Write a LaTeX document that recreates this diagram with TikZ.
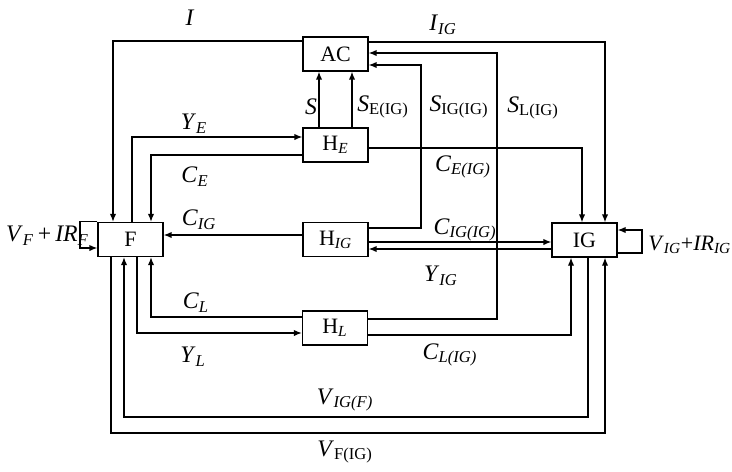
\documentclass[tikz,border=0pt]{standalone}
\usepackage{fontspec}
\setmainfont{Liberation Serif}
\usepackage{tikz}
\usetikzlibrary{arrows.meta,positioning,calc}
\newcommand{\vsub}[2]{\textit{#1}\textsubscript{\textit{#2}}}
\newcommand{\vsubrm}[2]{\textit{#1}\textsubscript{#2}}
\begin{document}
\begin{tikzpicture}[x=0.02cm,y=-0.02cm,>={Latex[length=4.5pt,width=3.6pt]},
 block/.style={draw,line width=0.8pt,minimum width=1.3cm,minimum height=0.68cm,inner sep=0pt,font=\fontsize{12.5}{14}\selectfont},
 flow/.style={->,line width=0.7pt},
 lbl/.style={font=\fontsize{13.5}{15}\selectfont,inner sep=1pt}]
\useasboundingbox (0,0) rectangle (732,471);
 \node[block] (AC) at (335.5,54) {AC};
 \node[block] (HE) at (335.5,145) {H\textsubscript{\textit{E}}};
 \node[block] (HIG) at (335.5,239.5) {H\textsubscript{\textit{IG}}};
 \node[block] (HL) at (335,328) {H\textsubscript{\textit{L}}};
 \node[block] (F) at (130.5,239.5) {F};
 \node[block] (IG) at (584.5,240) {IG};
 \draw[flow] (AC.west |- 0,41) -| (113,0 |- F.north);
 \draw[flow] (AC.east |- 0,42) -| (605,0 |- IG.north);
 \draw[flow] (HE.north -| 319,0) -- (AC.south -| 319,0);
 \draw[flow] (HE.north -| 352,0) -- (AC.south -| 352,0);
 \draw[flow] (HIG.east |- 0,228) -| (421,65) -- (AC.east |- 0,65);
 \draw[flow] (HL.east |- 0,319) -| (497,53) -- (AC.east |- 0,53);
 \draw[flow] (HE.east |- 0,148) -| (582,0 |- IG.north);
 \draw[flow] (F.north -| 132,0) |- (HE.west |- 0,137);
 \draw[flow] (HE.west |- 0,155) -| (151,0 |- F.north);
 \draw[flow] (HIG.west |- 0,235) -- (F.east |- 0,235);
 \draw[flow] (HIG.east |- 0,242) -- (IG.west |- 0,242);
 \draw[flow] (IG.west |- 0,249) -- (HIG.east |- 0,249);
 \draw[flow] (HL.west |- 0,317) -| (151,0 |- F.south);
 \draw[flow] (F.south -| 137,0) |- (HL.west |- 0,333);
 \draw[flow] (HL.east |- 0,335) -| (571,0 |- IG.south);
 \draw[flow] (IG.south -| 588,0) |- (124,417) -- (124,0 |- F.south);
 \draw[flow] (F.south -| 111,0) |- (605,433) -- (605,0 |- IG.south);
 \draw[flow] (F.north west) -| (80,248) -- (F.west |- 0,248);
 \draw[flow] (IG.east |- 0,253) -| (642,230) -- (IG.east |- 0,230);
 \node[lbl] (lI) at (190,18) {\textit{I}};
 \node[lbl] (lIIG) at (443,25) {\vsub{I}{IG}};
 \node[lbl] (lS) at (311,107) {\textit{S}};
 \node[lbl] (lSE) at (383,107) {\vsubrm{S}{E(IG)}};
 \node[lbl] (lSIG) at (459,107) {\vsubrm{S}{IG(IG)}};
 \node[lbl] (lSL) at (533,108) {\vsubrm{S}{L(IG)}};
 \node[lbl] (lYE) at (194,124) {\vsub{Y}{E}};
 \node[lbl] (lCE) at (195,177) {\vsub{C}{E}};
 \node[lbl] (lCIG) at (199,220) {\vsub{C}{IG}};
 \node[lbl] (lCEIG) at (463,167) {\vsub{C}{E(IG)}};
 \node[lbl] (lCIGIG) at (465,230) {\vsub{C}{IG(IG)}};
 \node[lbl] (lYIG) at (441,276) {\vsub{Y}{IG}};
 \node[lbl] (lCL) at (196,303) {\vsub{C}{L}};
 \node[lbl] (lYL) at (193,357) {\vsub{Y}{L}};
 \node[lbl] (lCLIG) at (450,355) {\vsub{C}{L(IG)}};
 \node[lbl] (lVIGF) at (345,400) {\vsub{V}{IG(F)}};
 \node[lbl] (lVFIG) at (345,452) {\vsubrm{V}{F(IG)}};
 \node[lbl,anchor=west] (lVF) at (4,236) {\vsub{V}{F}\,+\,\vsub{IR}{F}};
 \node[lbl,anchor=west,font=\fontsize{12.5}{14}\selectfont,inner sep=0pt] (lVIG) at (648,245) {\vsub{V}{IG}+\vsub{IR}{IG}};
\end{tikzpicture}
\end{document}
